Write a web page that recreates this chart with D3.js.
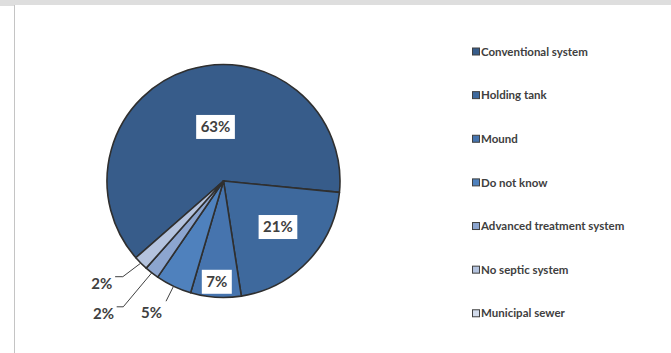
<!DOCTYPE html>
<html>
<head>
<meta charset="utf-8">
<script src="https://cdn.jsdelivr.net/npm/d3@7"></script>
<style>
  html, body { margin: 0; padding: 0; background: #fff; }
  svg { display: block; }
</style>
</head>
<body>
<svg id="chart" width="671" height="353"></svg>
<script>
// ---- data ----
const categories = ["Conventional system", "Holding tank", "Mound", "Do not know",
  "Advanced treatment system", "No septic system", "Municipal sewer"];
const values = [63, 21, 7, 5, 2, 2, 0];
const colors = ["#375c8a", "#3e699d", "#4674ae", "#4f81bd", "#8ca5cf", "#b4c3de", "#d2dbeb"];

// ---- layout config ----
const W = 671, H = 353;
const cx = 223.5, cy = 181, R = 116.5;
const startDeg = 228.8;
const insideCfg = {
  "Conventional system": { r: 0.469, da: 9.4 },
  "Holding tank": { r: 0.612, da: -3.2 },
  "Mound": { r: 0.867, da: 0 }
};
const outsideCfg = {
  "Do not know": { ex: -7.5, ey: 15, tail: 0, tx: -14.5, ty: 11.5 },
  "Advanced treatment system": { ex: -28.5, ey: 34, tail: -6.6, tx: -13.2, ty: 6.5 },
  "No septic system": { ex: -18, ey: 13.6, tail: -7.7, tx: -13.4, ty: 7.3 }
};

const svg = d3.select("#chart");
svg.append("rect").attr("x", 0).attr("y", 0).attr("width", W).attr("height", H).attr("fill", "#ffffff");
svg.append("rect").attr("x", 0).attr("y", 0).attr("width", W).attr("height", 5).attr("fill", "#dedede");
svg.append("rect").attr("x", 0).attr("y", 0).attr("width", 14).attr("height", 6).attr("fill", "#dedede");
svg.append("line").attr("x1", 14.5).attr("x2", 14.5).attr("y1", 5).attr("y2", H)
  .attr("stroke", "#c4c4c4").attr("stroke-width", 1);

const data = categories.map((c, i) => ({ cat: c, value: values[i], color: colors[i] }));
const a0 = startDeg * Math.PI / 180;
const pie = d3.pie().sort(null).value(d => d.value).startAngle(a0).endAngle(a0 + 2 * Math.PI);
const arcs = pie(data);
const arc = d3.arc().innerRadius(0).outerRadius(R);

const g = svg.append("g").attr("transform", `translate(${cx},${cy})`);
g.selectAll("path.slice").data(arcs.filter(d => d.data.value > 0)).join("path")
  .attr("class", "slice")
  .attr("d", arc)
  .attr("fill", d => d.data.color)
  .attr("stroke", "#2f2f2f")
  .attr("stroke-width", 1.6)
  .attr("stroke-linejoin", "round");

const font = "Lato, 'Liberation Sans', Arial, sans-serif";
const labelColor = "#404040";
const pctSize = 15;

arcs.forEach(d => {
  const cfg = insideCfg[d.data.cat];
  if (!cfg) return;
  const mid = (d.startAngle + d.endAngle) / 2 + cfg.da * Math.PI / 180;
  const rr = cfg.r * R;
  const x = Math.sin(mid) * rr, y = -Math.cos(mid) * rr;
  const lg = g.append("g").attr("transform", `translate(${x},${y})`);
  const t = lg.append("text")
    .attr("text-anchor", "middle").attr("dy", "0.36em")
    .attr("font-family", font).attr("font-weight", "bold").attr("font-size", pctSize)
    .attr("fill", labelColor).text(d.data.value + "%");
  const bb = t.node().getBBox();
  lg.insert("rect", "text")
    .attr("x", -bb.width / 2 - 4.5).attr("y", -12).attr("width", bb.width + 9).attr("height", 24)
    .attr("fill", "#ffffff");
});

arcs.forEach(d => {
  const cfg = outsideCfg[d.data.cat];
  if (!cfg) return;
  const mid = (d.startAngle + d.endAngle) / 2;
  const px = Math.sin(mid) * R, py = -Math.cos(mid) * R;
  const ex = px + cfg.ex, ey = py + cfg.ey;
  const hx = ex + cfg.tail;
  g.append("polyline")
    .attr("points", [[px, py], [ex, ey], [hx, ey]].map(p => p.join(",")).join(" "))
    .attr("fill", "none").attr("stroke", "#404040").attr("stroke-width", 1);
  g.append("text")
    .attr("x", hx + cfg.tx).attr("y", ey + cfg.ty)
    .attr("text-anchor", "middle").attr("dy", "0.36em")
    .attr("font-family", font).attr("font-weight", "bold").attr("font-size", pctSize)
    .attr("fill", labelColor).text(d.data.value + "%");
});

const legY0 = 51.5, legStep = 43.63, legX = 472;
const leg = svg.append("g");
data.forEach((d, i) => {
  const y = legY0 + i * legStep;
  leg.append("rect").attr("x", legX + 0.5).attr("y", y - 3.5).attr("width", 7).attr("height", 7)
    .attr("fill", d.color).attr("stroke", "#404040").attr("stroke-width", 1);
  leg.append("text").attr("x", legX + 9).attr("y", y).attr("dy", "0.36em")
    .attr("font-family", font).attr("font-weight", "bold").attr("font-size", 11.5)
    .attr("fill", labelColor).text(d.cat);
});
</script>
</body>
</html>
